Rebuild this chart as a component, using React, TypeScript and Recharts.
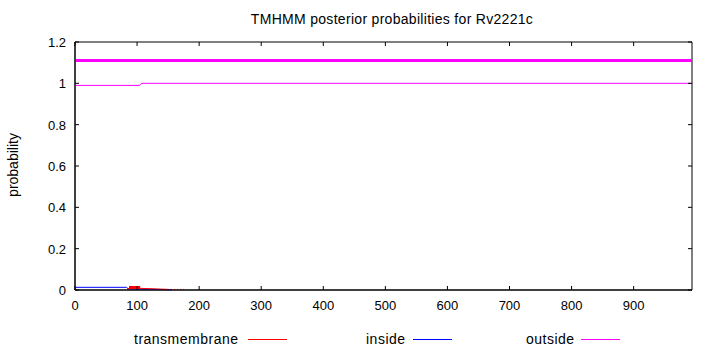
import { Line, LineChart, ReferenceArea, XAxis, YAxis } from "recharts";

// sequence positions / posterior probabilities
const topoPos = [0, 994];
const topoProb = [1.11, 1.11];

const outsidePos = [1, 104, 107, 994];
const outsideProb = [0.99, 0.99, 1.0, 1.0];

const insidePos = [1, 83, 86, 120, 155];
const insideProb = [0.013, 0.013, 0.005, 0.004, 0.001];

const tmPos = [84, 87, 105, 150];
const tmProb = [0.004, 0.008, 0.008, 0.003];

const tmPeakPos = [87, 105];
const tmPeakProb = [0.012, 0.012];

const tmTailPos = [150, 178];
const tmTailProb = [0.003, 0.003];

const xTicks = [0, 100, 200, 300, 400, 500, 600, 700, 800, 900];
const yTicks = [0, 0.2, 0.4, 0.6, 0.8, 1, 1.2];

const legendItems = [
  { name: "transmembrane", color: "#ff0000", textX: 134, lineX: 248 },
  { name: "inside", color: "#0000ff", textX: 366, lineX: 413 },
  { name: "outside", color: "#ff00ff", textX: 526, lineX: 581 },
];

const FONT = "'Liberation Sans', Arial, Helvetica, sans-serif";
const PLOT_W = 617;
const PLOT_H = 248;
const TICK = 4;

const toRows = (pos: number[], prob: number[]) =>
  pos.map((p, i) => ({ pos: p, prob: prob[i] }));

const XTick = ({ x, y, payload }: { x: number; y: number; payload: { value: number } }) => (
  <g>
    <line x1={x} x2={x} y1={y} y2={y - TICK} stroke="#000" />
    <line x1={x} x2={x} y1={y - PLOT_H} y2={y - PLOT_H + TICK} stroke="#000" />
    <text x={x} y={y + 20} textAnchor="middle" fontSize={13} fontFamily={FONT} fill="#000">
      {payload.value}
    </text>
  </g>
);

const YTick = ({ x, y, payload }: { x: number; y: number; payload: { value: number } }) => (
  <g>
    <line x1={x} x2={x + TICK} y1={y} y2={y} stroke="#000" />
    <line x1={x + PLOT_W} x2={x + PLOT_W - TICK} y1={y} y2={y} stroke="#000" />
    <text x={x - 9} y={y + 5} textAnchor="end" fontSize={13} fontFamily={FONT} fill="#000">
      {String(Number(payload.value.toFixed(1)))}
    </text>
  </g>
);

export default function App() {
  return (
    <div style={{ position: "absolute", left: 0, top: 0, width: 710, height: 350, background: "#fff" }}>
      <LineChart width={710} height={350} margin={{ top: 42, right: 18, bottom: 30, left: 0 }}>
        <XAxis
          dataKey="pos"
          type="number"
          domain={[0, 994]}
          ticks={xTicks}
          allowDuplicatedCategory={false}
          height={30}
          tickSize={0}
          tickMargin={0}
          tick={XTick}
          axisLine={{ stroke: "#000" }}
          tickLine={false}
          interval={0}
        />
        <YAxis
          type="number"
          domain={[0, 1.2]}
          ticks={yTicks}
          width={75}
          tickSize={0}
          tickMargin={0}
          tick={YTick}
          axisLine={{ stroke: "#000" }}
          tickLine={false}
          interval={0}
        />
        <ReferenceArea x1={0} x2={994} y1={0} y2={1.2} fill="none" stroke="#000" strokeWidth={1} />
        <Line data={toRows(topoPos, topoProb)} dataKey="prob" stroke="#ff00ff" strokeWidth={3} dot={false} isAnimationActive={false} />
        <Line data={toRows(outsidePos, outsideProb)} dataKey="prob" stroke="#ff00ff" strokeWidth={1} dot={false} isAnimationActive={false} />
        <Line data={toRows(insidePos, insideProb)} dataKey="prob" stroke="#0000ff" strokeWidth={1} dot={false} isAnimationActive={false} />
        <Line data={toRows(tmPos, tmProb)} dataKey="prob" stroke="#ff0000" strokeWidth={1} dot={false} isAnimationActive={false} />
        <Line data={toRows(tmPeakPos, tmPeakProb)} dataKey="prob" stroke="#ff0000" strokeWidth={3} dot={false} isAnimationActive={false} />
        <Line data={toRows(tmTailPos, tmTailProb)} dataKey="prob" stroke="#ff0000" strokeWidth={1} strokeDasharray="1 2" dot={false} isAnimationActive={false} />
      </LineChart>
      <svg width={710} height={350} style={{ position: "absolute", left: 0, top: 0, pointerEvents: "none" }}>
        <text x={392} y={24} textAnchor="middle" fontSize={14} fontFamily={FONT} letterSpacing={0.3} fill="#000">
          TMHMM posterior probabilities for Rv2221c
        </text>
        <text
          x={18}
          y={165}
          transform="rotate(-90 18 165)"
          textAnchor="middle"
          fontSize={14}
          fontFamily={FONT}
          fill="#000"
        >
          probability
        </text>
        {legendItems.map((item) => (
          <g key={item.name}>
            <text x={item.textX} y={344} fontSize={14} fontFamily={FONT} letterSpacing={0.5} fill="#000">
              {item.name}
            </text>
            <line x1={item.lineX} x2={item.lineX + 39} y1={339.5} y2={339.5} stroke={item.color} />
          </g>
        ))}
      </svg>
    </div>
  );
}
